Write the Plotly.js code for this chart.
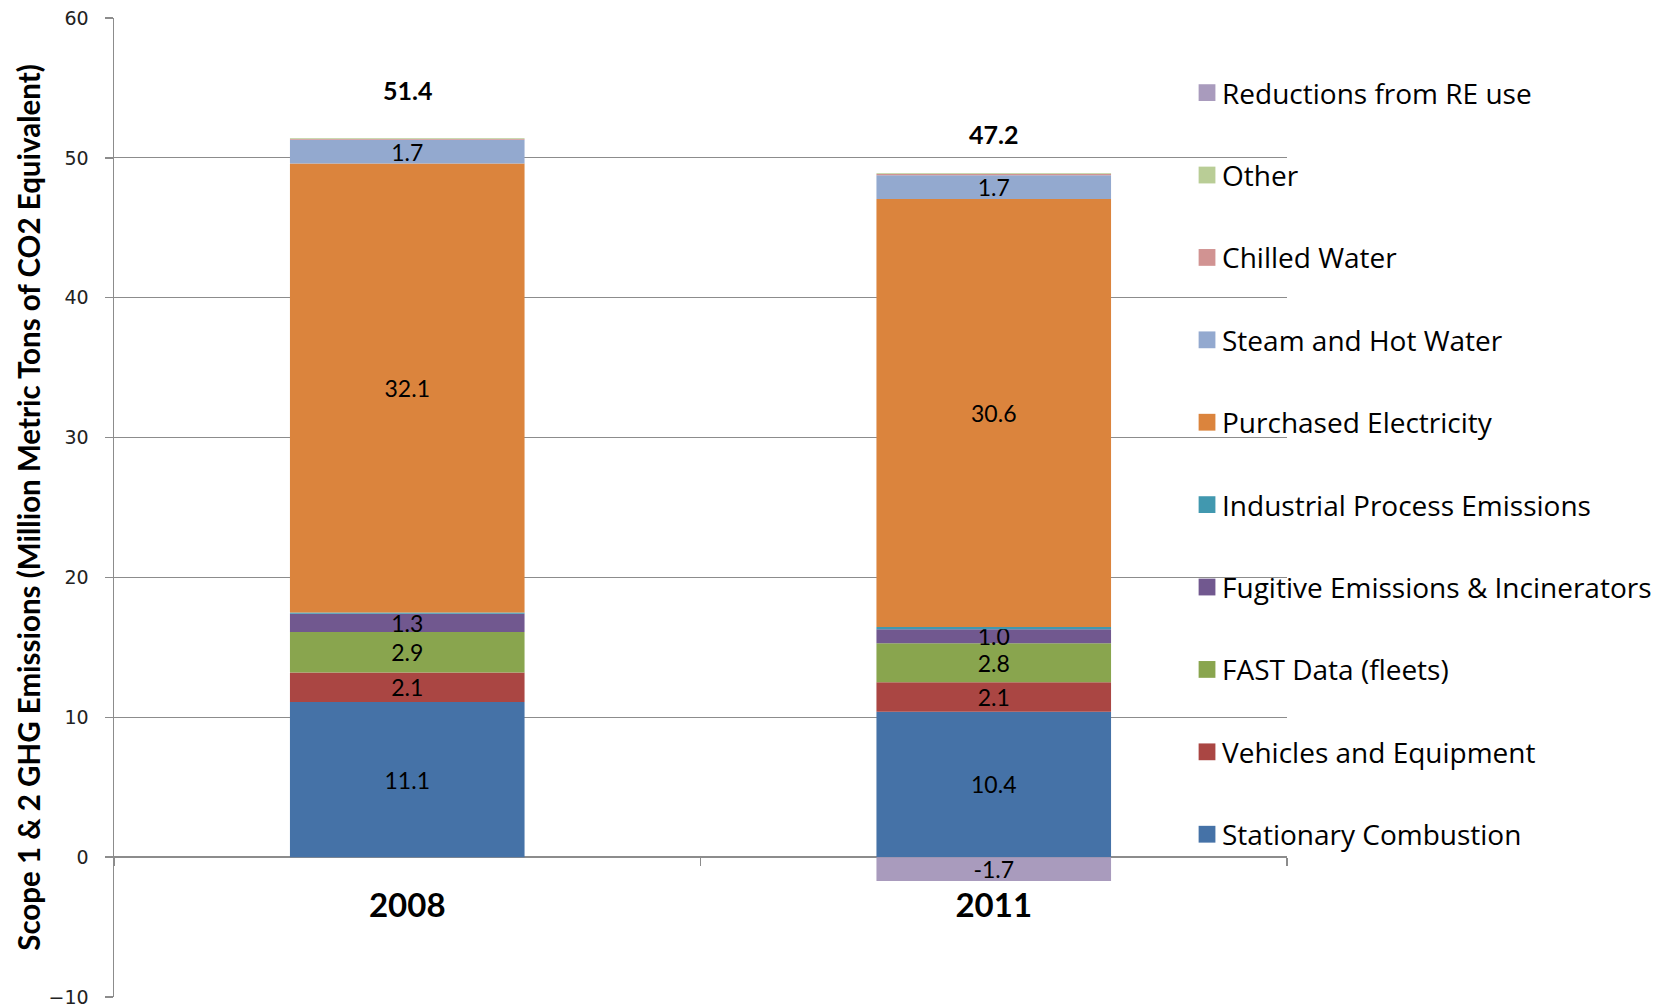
<!DOCTYPE html>
<html>
<head>
<meta charset="utf-8">
<script src="https://cdn.plot.ly/plotly-3.0.1.min.js"></script>
<style>
  html, body { margin: 0; padding: 0; background: #fff; }
  #chart { width: 1670px; height: 1006px; }
</style>
</head>
<body>
<div id="chart"></div>
<script>
// ---- data ----
const categories = ['2008', '2011'];

const stationaryCombustion = [11.1, 10.4];
const vehiclesAndEquipment = [2.1, 2.1];
const fastDataFleets = [2.9, 2.8];
const fugitiveEmissions = [1.3, 1.0];
const industrialProcess = [0.1, 0.15];
const purchasedElectricity = [32.1, 30.6];
const steamAndHotWater = [1.7, 1.7];
const chilledWater = [0.05, 0.1];
const otherEmissions = [0.05, 0.05];
const reductionsFromRE = [null, -1.7];

const totalLabels = [51.4, 47.2];

const seriesNames = [
  'Stationary Combustion',
  'Vehicles and Equipment',
  'FAST Data (fleets)',
  'Fugitive Emissions & Incinerators',
  'Industrial Process Emissions',
  'Purchased Electricity',
  'Steam and Hot Water',
  'Chilled Water',
  'Other',
  'Reductions from RE use'
];
const seriesValues = [
  stationaryCombustion, vehiclesAndEquipment, fastDataFleets, fugitiveEmissions,
  industrialProcess, purchasedElectricity, steamAndHotWater, chilledWater,
  otherEmissions, reductionsFromRE
];

const yAxisTitle = 'Scope 1 &amp; 2 GHG Emissions (Million Metric Tons of CO2 Equivalent)';

// ---- styles ----
const seriesColors = ['#4572A7', '#AA4643', '#89A54E', '#71588F', '#4198AF',
                      '#DB843D', '#93A9CF', '#D19392', '#B9CD96', '#A99BBD'];
const seriesShowLabel = [true, true, true, true, false, true, true, false, false, true];
const totalLabelLift = [48, 39];

const yMin = -10, yMax = 60;
const gridColor = '#8c8c8c';

const traces = seriesNames.map((name, i) => ({
  type: 'bar',
  name: name,
  x: categories,
  y: seriesValues[i],
  legendgroup: 'g' + i,
  legendrank: seriesNames.length - i,
  marker: { color: seriesColors[i], line: { width: 0 } },
  text: seriesShowLabel[i] ? seriesValues[i].map(v => v == null ? '' : v.toFixed(1)) : null,
  textposition: seriesShowLabel[i] ? 'inside' : 'none',
  insidetextanchor: 'middle',
  textangle: 0,
  constraintext: 'none',
  textfont: { family: 'Lato, sans-serif', size: 23, color: '#000' },
  cliponaxis: false,
  hoverinfo: 'name+y'
}));

// positive stack tops for total labels
const positiveTops = categories.map((c, j) =>
  seriesValues.reduce((s, arr) => s + (arr[j] != null && arr[j] > 0 ? arr[j] : 0), 0));

const annotations = categories.map((c, j) => ({
  x: j, y: positiveTops[j], xref: 'x', yref: 'y',
  text: '<b>' + totalLabels[j].toFixed(1) + '</b>',
  showarrow: false, yshift: totalLabelLift[j],
  font: { family: 'Lato, sans-serif', size: 25, color: '#000' }
}));
annotations.push({
  x: -0.0731, y: 0.5, xref: 'paper', yref: 'paper',
  xanchor: 'center', yanchor: 'middle',
  text: '<b>' + yAxisTitle + '</b>',
  textangle: -90, showarrow: false,
  font: { family: 'Lato, sans-serif', size: 29.5, color: '#000' }
});

const layout = {
  width: 1670, height: 1006,
  paper_bgcolor: '#fff', plot_bgcolor: '#fff',
  margin: { l: 114, r: 383, t: 18, b: 9, autoexpand: false },
  barmode: 'relative',
  bargap: 0.6,
  showlegend: true,
  legend: {
    x: 0.9105, xanchor: 'left', y: 0.949, yanchor: 'top',
    bgcolor: 'rgba(0,0,0,0)',
    traceorder: 'grouped',
    tracegroupgap: 43,
    font: { family: 'Open Sans, sans-serif', size: 28, color: '#000' }
  },
  xaxis: {
    type: 'category',
    range: [-0.5, 1.5],
    anchor: 'free',
    position: (0 - yMin) / (yMax - yMin),
    showline: false,
    showgrid: false, zeroline: false,
    ticks: 'outside', tickson: 'boundaries', ticklen: 8, tickcolor: gridColor, tickwidth: 1.3,
    ticklabelstandoff: 26,
    tickfont: { family: 'Lato, sans-serif', size: 33, color: '#000', weight: 'bold' },
    automargin: false
  },
  yaxis: {
    range: [yMin, yMax],
    dtick: 10, tick0: 0,
    showline: true, linecolor: gridColor, linewidth: 1.5,
    showgrid: true, gridcolor: gridColor, gridwidth: 1.2,
    zeroline: true, zerolinecolor: gridColor, zerolinewidth: 1.3,
    ticks: 'outside', ticklen: 8, tickcolor: gridColor, tickwidth: 1.3,
    ticklabelstandoff: 12,
    ticklabeloverflow: 'allow',
    tickfont: { family: 'DejaVu Sans, sans-serif', size: 19, color: '#222' },
    automargin: false
  },
  annotations: annotations
};

Plotly.newPlot('chart', traces, layout, { displayModeBar: false, staticPlot: true }).then(gd => {
  // enlarge and nudge legend swatches to match the reference's square markers
  gd.querySelectorAll('.legend .legendpoints path').forEach(p => {
    const t = p.getAttribute('transform') || '';
    p.setAttribute('transform', t + ' translate(5,0) scale(1.4)');
  });
});
</script>
</body>
</html>
